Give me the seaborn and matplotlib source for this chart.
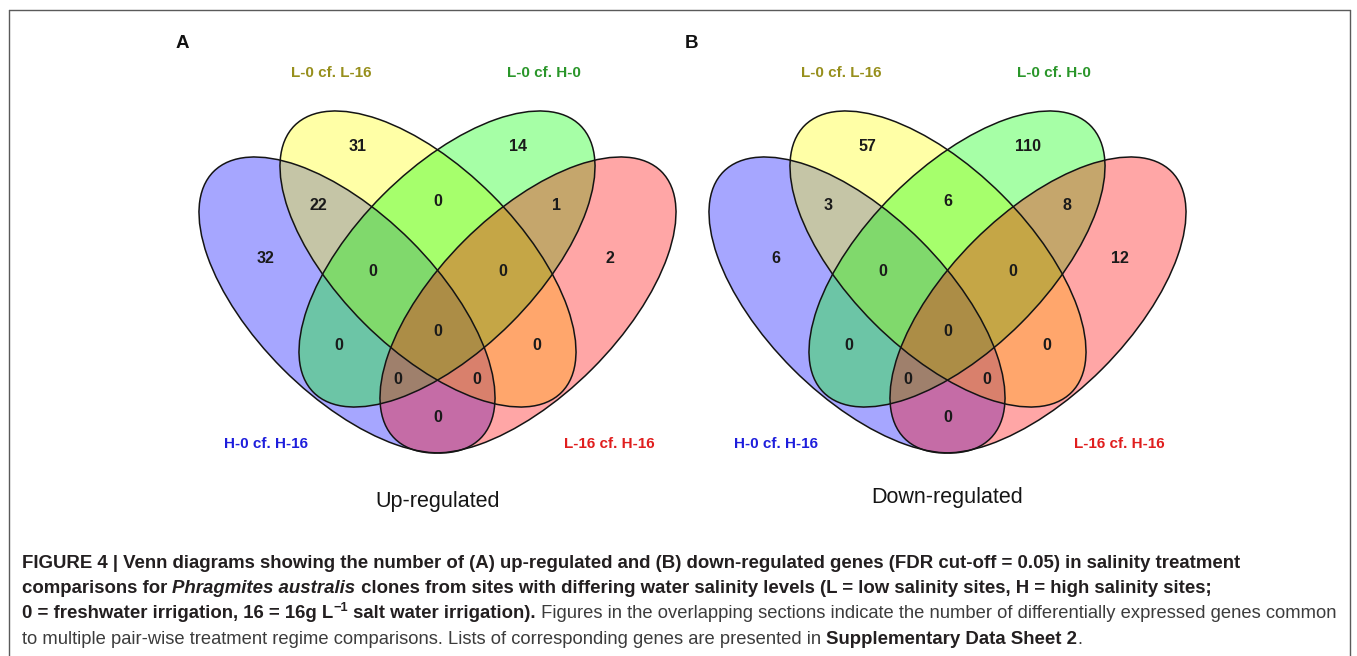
import matplotlib
matplotlib.use("Agg")
import matplotlib.pyplot as plt
from matplotlib.patches import Ellipse
from matplotlib.lines import Line2D
import seaborn as sns
import pandas as pd

sns.set_theme(style="white")
plt.rcParams["font.family"] = ["Liberation Sans", "DejaVu Sans"]

# ---- data -------------------------------------------------------------
# Sets (drawing order): B = H-0 cf. H-16, Y = L-0 cf. L-16, G = L-0 cf. H-0, R = L-16 cf. H-16
set_keys = ["B", "Y", "G", "R"]
set_names = ["H-0 cf. H-16", "L-0 cf. L-16", "L-0 cf. H-0", "L-16 cf. H-16"]

# Venn regions, named by the sets they belong to
region_keys = ["Y", "G", "BY", "YG", "GR", "B", "BYG", "YGR", "R",
               "BYGR", "BG", "YR", "BGR", "BYR", "BR"]
up_counts = [31, 14, 22, 0, 1, 32, 0, 0, 2, 0, 0, 0, 0, 0, 0]
down_counts = [57, 110, 3, 6, 8, 6, 0, 0, 12, 0, 0, 0, 0, 0, 0]

panel_letters = ["A", "B"]
panel_titles = ["Up-regulated", "Down-regulated"]

counts = pd.DataFrame({"region": region_keys, "up": up_counts, "down": down_counts})

# ---- styling / layout -------------------------------------------------
fill_colors = dict(zip(set_keys, sns.color_palette(["#0000FF", "#FFFF00", "#00FF00", "#FF0000"])))
label_colors = dict(zip(set_keys, ["#1E1EDC", "#978F1C", "#2A962A", "#E01E1E"]))

# ellipse geometry in layout units (1 unit = 100 px), origin at the diagram centre
ell_w, ell_h = 3.774, 1.812
ellipses = {
    "B": dict(xy=(-0.905, -0.40), width=ell_w, height=ell_h, angle=135),
    "Y": dict(xy=(-0.095, 0.06), width=ell_w, height=ell_h, angle=135),
    "G": dict(xy=(0.095, 0.06), width=ell_w, height=ell_h, angle=45),
    "R": dict(xy=(0.905, -0.40), width=ell_w, height=ell_h, angle=45),
}
region_anchor = {
    "Y": (-0.80, 1.183), "G": (0.80, 1.183),
    "BY": (-1.193, 0.593), "YG": (0.0, 0.633), "GR": (1.193, 0.593),
    "B": (-1.72, 0.067), "BYG": (-0.65, -0.067), "YGR": (0.65, -0.067), "R": (1.72, 0.067),
    "BYGR": (0.0, -0.667),
    "BG": (-0.99, -0.80), "YR": (0.99, -0.80),
    "BGR": (-0.397, -1.143), "BYR": (0.397, -1.143),
    "BR": (0.0, -1.527),
}
set_label_anchor = {"B": (-1.72, -1.793), "Y": (-1.06, 1.917),
                    "G": (1.06, 1.917), "R": (1.72, -1.793)}

W, H = 1357, 656
fig = plt.figure(figsize=(W / 100, H / 100), dpi=100)
fig.patch.set_facecolor("white")

panel_cx = [437.5, 947.5]
title_y = [-2.367, -2.32]
center_y = 265
half_w = 290
top_px, bot_px = 20, 530


def make_axes(cx):
    ax = fig.add_axes([(cx - half_w) / W, (H - bot_px) / H,
                       2 * half_w / W, (bot_px - top_px) / H])
    ax.set_xlim(-half_w / 100, half_w / 100)
    ax.set_ylim((center_y - bot_px) / 100, (center_y - top_px) / 100)
    ax.set_axis_off()
    ax.patch.set_alpha(0)
    return ax


for i, col in enumerate(["up", "down"]):
    ax = make_axes(panel_cx[i])
    for k in set_keys:
        ax.add_patch(Ellipse(**ellipses[k], facecolor=fill_colors[k],
                             alpha=0.35, edgecolor="none", zorder=1))
    for k in set_keys:
        ax.add_patch(Ellipse(**ellipses[k], fill=False, edgecolor="#141414",
                             lw=1.1, zorder=3))
    for _, row in counts.iterrows():
        x, y = region_anchor[row["region"]]
        ax.text(x, y, str(row[col]), ha="center", va="center", fontsize=11.5,
                fontweight="bold", color="#1a1a1a", zorder=5)
    for k, name in zip(set_keys, set_names):
        x, y = set_label_anchor[k]
        ax.text(x, y, name, ha="center", va="center", fontsize=11,
                fontweight="bold", color=label_colors[k], zorder=5)
    ax.text(0, title_y[i], panel_titles[i], ha="center", va="center",
            fontsize=15.5, color="#151515")
    ax.text(-2.557, 2.217, panel_letters[i], ha="center", va="center",
            fontsize=13.5, fontweight="bold", color="#111111")

# ---- frame ------------------------------------------------------------
frame_kw = dict(color="#5a5a5a", lw=1.0, transform=fig.transFigure)
for (x0, y0), (x1, y1) in [((8.5, 9.5), (1349.5, 9.5)),
                           ((8.5, 9.5), (8.5, 660)),
                           ((1349.5, 9.5), (1349.5, 660))]:
    fig.add_artist(Line2D([x0 / W, x1 / W], [1 - y0 / H, 1 - y1 / H], **frame_kw))

# ---- caption ----------------------------------------------------------
caption_lines = [
    [("FIGURE 4 | Venn diagrams showing the number of (A) up-regulated and (B) "
      "down-regulated genes (FDR cut-off = 0.05) in salinity treatment", "b")],
    [("comparisons for ", "b"), ("Phragmites australis", "bi"),
     (" clones from sites with differing water salinity levels (L = low salinity "
      "sites, H = high salinity sites;", "b")],
    [("0 = freshwater irrigation, 16 = 16g L", "b"), ("\u22121", "sup"),
     (" salt water irrigation).", "b"),
     (" Figures in the overlapping sections indicate the number of differentially "
      "expressed genes common", "r")],
    [("to multiple pair-wise treatment regime comparisons. Lists of corresponding "
      "genes are presented in ", "r"), ("Supplementary Data Sheet 2", "b"), (".", "r")],
]
baselines = [568, 593, 618.5, 643.5]
x_start = 22
bold_col, reg_col = "#231F20", "#3c3c3c"
bold_scale = 1.015

renderer = fig.canvas.get_renderer()


def style_kw(style, size):
    if style == "b":
        return dict(fontsize=size * bold_scale, fontweight="bold", color=bold_col)
    if style == "bi":
        return dict(fontsize=size * bold_scale, fontweight="bold", fontstyle="italic",
                    color=bold_col)
    if style == "sup":
        return dict(fontsize=size * 0.7, fontweight="bold", color=bold_col)
    return dict(fontsize=size, color=reg_col)


def run_width(text, style, size):
    t1 = fig.text(0, 0, "|" + text + "|", **style_kw(style, size))
    t2 = fig.text(0, 0, "||", **style_kw(style, size))
    w = t1.get_window_extent(renderer).width - t2.get_window_extent(renderer).width
    t1.remove()
    t2.remove()
    return w


def line_width(runs, size):
    return sum(run_width(t, s, size) for t, s in runs)


# size the caption so the longest line fills the text block
ref_size = 10.0
target = 1317.0
cap_size = ref_size * target / line_width(caption_lines[2], ref_size)

for runs, base in zip(caption_lines, baselines):
    x = x_start
    for text, style in runs:
        raise_px = cap_size * 100 / 72 * 0.42 if style == "sup" else 0
        fig.text(x / W, 1 - (base - raise_px) / H, text, ha="left", va="baseline",
                 **style_kw(style, cap_size))
        x += run_width(text, style, cap_size)

fig.savefig("out.png", dpi=100, facecolor="white")
